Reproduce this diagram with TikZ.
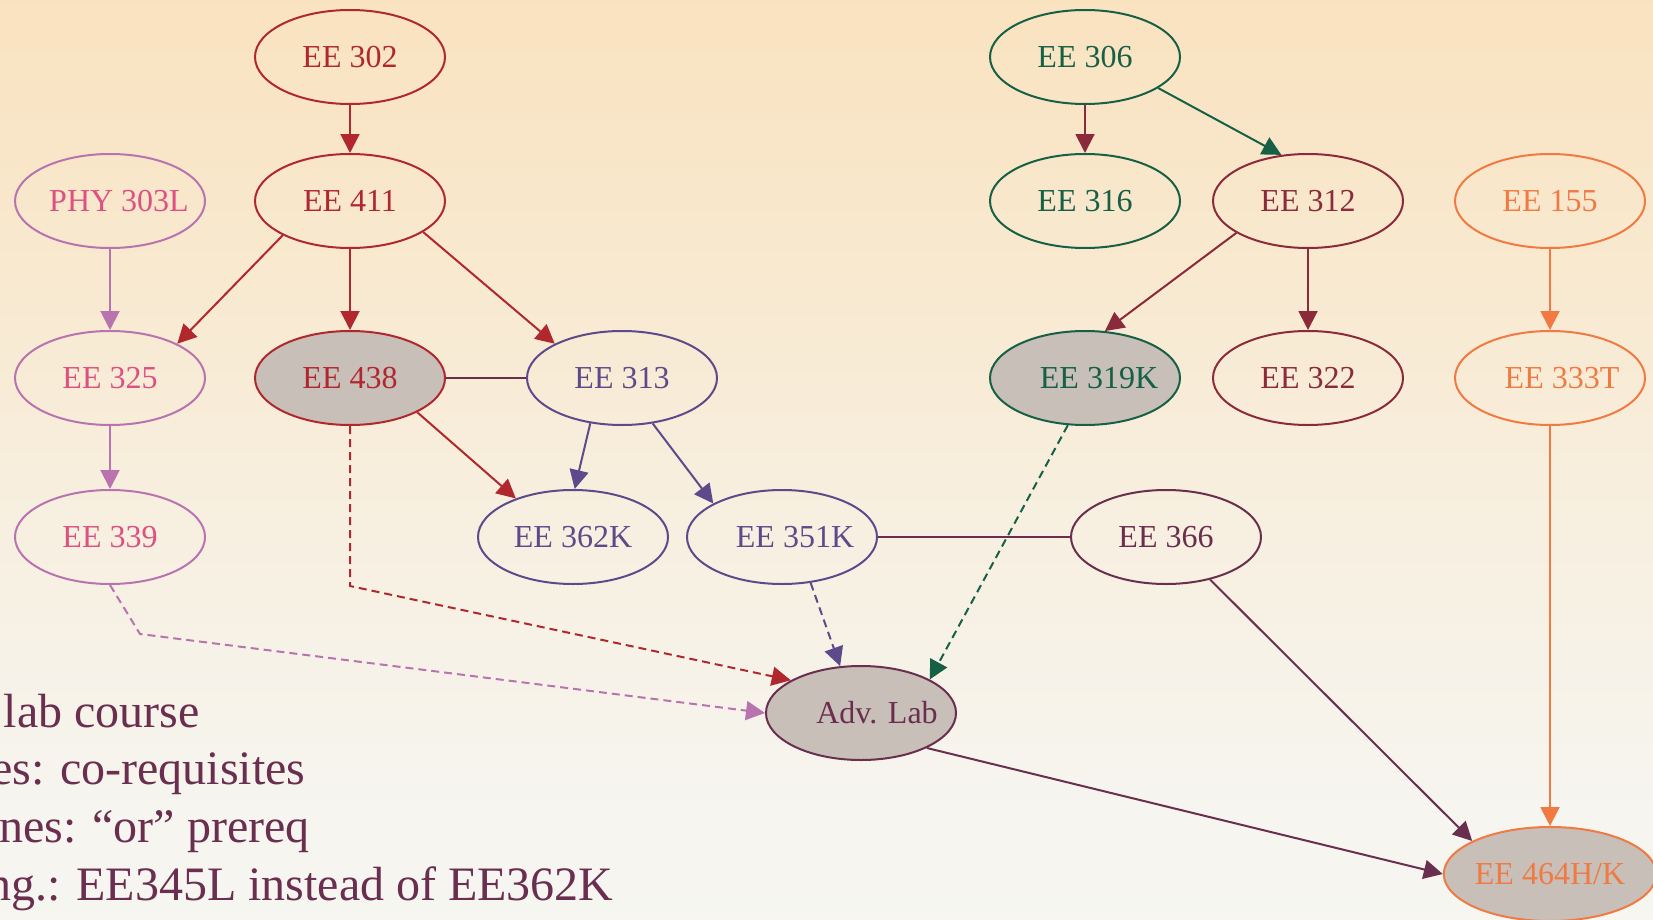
\documentclass[tikz,border=0pt]{standalone}
\usepackage{fontspec}
\setmainfont{Liberation Serif}
\usetikzlibrary{shapes.geometric,arrows.meta}
\definecolor{eered}{RGB}{176,40,46}
\definecolor{eeorchid}{RGB}{185,115,175}
\definecolor{eepink}{RGB}{222,80,130}
\definecolor{eepurple}{RGB}{94,74,138}
\definecolor{eegreen}{RGB}{22,96,70}
\definecolor{eemaroon}{RGB}{138,42,58}
\definecolor{eeorange}{RGB}{240,122,66}
\definecolor{eeplum}{RGB}{106,46,78}
\definecolor{labgray}{RGB}{200,191,185}
\pgfdeclareverticalshading{bgfade}{100bp}{rgb(0bp)=(0.976,0.976,0.969); rgb(30bp)=(0.965,0.961,0.941); rgb(45bp)=(0.969,0.941,0.886); rgb(60bp)=(0.973,0.914,0.816); rgb(85bp)=(0.980,0.871,0.706); rgb(100bp)=(0.980,0.839,0.651)}
\newcommand\nudgetext[2]{\hbox to 0pt{\hss\hspace*{#1}#2\hss}}
\tikzset{
  course/.style={ellipse,draw=#1,text=#1,line width=1pt,minimum width=95pt,minimum height=47pt,inner sep=0pt,font=\fontsize{16}{16}\selectfont},
  lab/.style={course=#1,fill=labgray},
  pre/.style={line width=1pt,-{Triangle[length=9.5pt,width=9.5pt]}},
  orpre/.style={pre,dash pattern=on 4pt off 2.5pt},
  coreq/.style={line width=1pt},
  legend/.style={text=eeplum,inner sep=0pt,anchor=base east,font=\fontsize{24}{24}\selectfont}
}
\begin{document}
\begin{tikzpicture}[x=0.5pt,y=-0.5pt]
\useasboundingbox (0,0) rectangle (1653,920);
\clip (0,0) rectangle (1653,920);
\shade[shading=bgfade] (0,0) rectangle (1653,920);

\node (ee302) at (350,57) [course=eered]{EE 302};
\node (ee411) at (350,201) [course=eered]{EE 411};
\node (phy303) at (110,201) [course=eeorchid,text=eepink]{\nudgetext{9pt}{PHY 303L}};
\node (ee325) at (110,378) [course=eeorchid,text=eepink]{EE 325};
\node (ee339) at (110,537) [course=eeorchid,text=eepink]{EE 339};
\node (ee438) at (350,378) [lab=eered]{EE 438};
\node (ee313) at (622,378) [course=eepurple]{EE 313};
\node (ee362) at (573,537) [course=eepurple]{EE 362K};
\node (ee351) at (782,537) [course=eepurple]{\nudgetext{13pt}{EE 351K}};
\node (ee366) at (1166,537) [course=eeplum]{EE 366};
\node (adv) at (861,713) [lab=eeplum]{\nudgetext{16pt}{Adv. Lab}};
\node (ee306) at (1085,57) [course=eegreen]{EE 306};
\node (ee316) at (1085,201) [course=eegreen]{EE 316};
\node (ee312) at (1308,201) [course=eemaroon]{EE 312};
\node (ee319) at (1085,378) [lab=eegreen]{\nudgetext{14pt}{EE 319K}};
\node (ee322) at (1308,378) [course=eemaroon]{EE 322};
\node (ee155) at (1550,201) [course=eeorange]{EE 155};
\node (ee333) at (1550,378) [course=eeorange]{\nudgetext{12pt}{EE 333T}};
\node (ee464) at (1550,874) [lab=eeorange]{EE 464H/K};

\coordinate (bend438) at (350,586);
\coordinate (bend339) at (140,634);

\draw[pre,eered] (ee302)--(ee411);
\draw[pre,eered] (ee411.207)--(ee325.27);
\draw[pre,eered] (ee411)--(ee438);
\draw[pre,eered] (ee411.337)--(ee313.153);
\draw[pre,eeorchid] (phy303)--(ee325);
\draw[pre,eeorchid] (ee325)--(ee339);
\draw[coreq,eeplum] (ee438)--(ee313);
\draw[pre,eered] (ee438.333)--(ee362.146);
\draw[pre,eepurple] (ee313.235)--(ee362.88);
\draw[pre,eepurple] (ee313.304)--(ee351.154);
\draw[coreq,eeplum] (ee351)--(ee366);
\draw[orpre,eered] (ee438.south)--(bend438)--(adv.155);
\draw[orpre,eeorchid] (ee339.south)--(bend339)--(adv.west);
\draw[orpre,eepurple] (ee351.302)--(adv.114);
\draw[orpre,eegreen] (ee319.250)--(adv.26);
\draw[pre,eeplum] (ee366.316)--(ee464.157);
\draw[pre,eeplum] (adv.332)--(ee464.west);
\draw[pre,eeorange] (ee155)--(ee333);
\draw[pre,eeorange] (ee333)--(ee464);
\draw[pre,eemaroon] (ee306)--(ee316);
\draw[pre,eegreen] (ee306.337)--(ee312.120);
\draw[pre,eemaroon] (ee312.204)--(ee319.67);
\draw[pre,eemaroon] (ee312)--(ee322);

\node[legend] (key1) at (200,727) {lab course};
\node[legend] (key2) at (306,784) {es: co-requisites};
\node[legend] (key3) at (310,842) {ines: “or” prereq};
\node[legend] (key4) at (614,900) {ng.: EE345L instead of EE362K};
\end{tikzpicture}
\end{document}
